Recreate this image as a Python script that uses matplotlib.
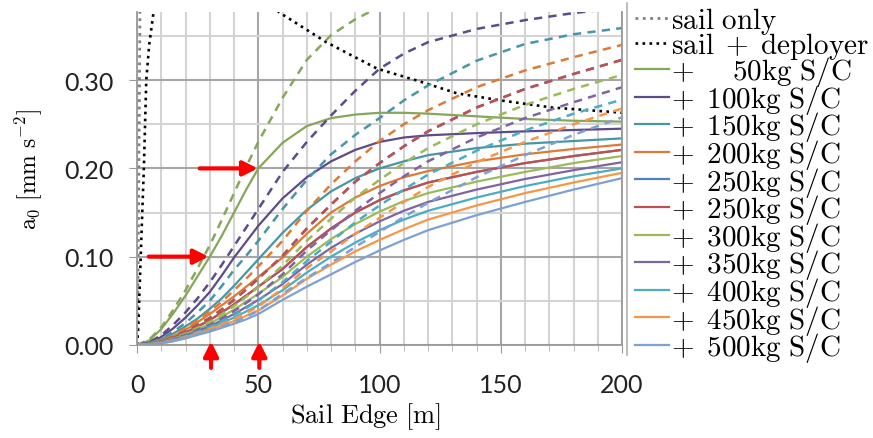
import numpy as np
import matplotlib
matplotlib.use("Agg")
import matplotlib.pyplot as plt
from matplotlib.lines import Line2D

plt.rcParams['mathtext.fontset'] = 'cm'

# Sail edge length [m]
edge = [0, 5, 10, 15, 20, 25, 30, 35, 40, 45, 50, 60, 70, 80, 90, 100, 110, 120, 140, 160, 180, 200]

# characteristic acceleration a0 [mm s^-2], solid curves
sc50 = [0, 0.005, 0.018, 0.036, 0.056, 0.078, 0.100, 0.124, 0.150, 0.176, 0.200, 0.229, 0.248, 0.257, 0.261, 0.263, 0.263, 0.262, 0.259, 0.256, 0.254, 0.253]
sc100 = [0, 0.0025, 0.009, 0.019, 0.031, 0.045, 0.060, 0.079, 0.099, 0.117, 0.135, 0.166, 0.190, 0.208, 0.221, 0.230, 0.235, 0.2375, 0.240, 0.242, 0.2435, 0.245]
sc150 = [0, 0.0017, 0.006, 0.013, 0.021, 0.030, 0.041, 0.053, 0.067, 0.082, 0.097, 0.127, 0.153, 0.174, 0.189, 0.200, 0.208, 0.215, 0.223, 0.228, 0.231, 0.234]
sc200 = [0, 0.0012, 0.0045, 0.010, 0.017, 0.026, 0.035, 0.045, 0.055, 0.066, 0.077, 0.099, 0.126, 0.150, 0.167, 0.180, 0.190, 0.197, 0.208, 0.216, 0.222, 0.227]
sc250 = [0, 0.0009, 0.0037, 0.008, 0.014, 0.021, 0.028, 0.037, 0.046, 0.056, 0.066, 0.086, 0.111, 0.132, 0.150, 0.164, 0.175, 0.184, 0.196, 0.206, 0.214, 0.221]
sc300 = [0, 0.0008, 0.0031, 0.0068, 0.012, 0.018, 0.024, 0.032, 0.040, 0.049, 0.058, 0.077, 0.100, 0.120, 0.137, 0.151, 0.163, 0.172, 0.185, 0.196, 0.206, 0.214]
sc350 = [0, 0.0007, 0.0027, 0.006, 0.0105, 0.016, 0.021, 0.028, 0.035, 0.043, 0.051, 0.069, 0.091, 0.110, 0.126, 0.140, 0.152, 0.162, 0.176, 0.188, 0.198, 0.207]
sc400 = [0, 0.0006, 0.0024, 0.0053, 0.0093, 0.014, 0.019, 0.025, 0.031, 0.038, 0.045, 0.062, 0.082, 0.100, 0.116, 0.130, 0.142, 0.152, 0.167, 0.180, 0.191, 0.200]
sc450 = [0, 0.0005, 0.0021, 0.0047, 0.0083, 0.0126, 0.017, 0.022, 0.027, 0.033, 0.039, 0.056, 0.075, 0.091, 0.106, 0.119, 0.131, 0.142, 0.158, 0.172, 0.184, 0.195]
sc500 = [0, 0.0005, 0.0019, 0.0042, 0.0075, 0.0114, 0.015, 0.0195, 0.024, 0.029, 0.035, 0.051, 0.066, 0.080, 0.094, 0.107, 0.119, 0.130, 0.147, 0.162, 0.176, 0.189]

# dashed curves
d50 = [0, 0.006, 0.020, 0.040, 0.062, 0.087, 0.113, 0.142, 0.172, 0.202, 0.230, 0.280, 0.323, 0.351, 0.369, 0.383, 0.394, 0.400, 0.410, 0.415, 0.418, 0.420]
d100 = [0, 0.003, 0.011, 0.023, 0.037, 0.053, 0.071, 0.091, 0.112, 0.133, 0.154, 0.196, 0.230, 0.260, 0.288, 0.313, 0.330, 0.343, 0.358, 0.368, 0.376, 0.382]
d150 = [0, 0.002, 0.007, 0.015, 0.025, 0.037, 0.050, 0.067, 0.085, 0.101, 0.118, 0.154, 0.187, 0.216, 0.238, 0.257, 0.277, 0.294, 0.322, 0.341, 0.352, 0.359]
d200 = [0, 0.0013, 0.005, 0.011, 0.019, 0.028, 0.038, 0.049, 0.062, 0.075, 0.089, 0.118, 0.152, 0.182, 0.208, 0.231, 0.250, 0.266, 0.292, 0.311, 0.326, 0.340]
d250 = [0, 0.001, 0.004, 0.0087, 0.0153, 0.0229, 0.0306, 0.0404, 0.0511, 0.0627, 0.0751, 0.101, 0.132, 0.159, 0.185, 0.206, 0.225, 0.242, 0.269, 0.290, 0.307, 0.323]
d300 = [0, 0.0009, 0.0034, 0.0074, 0.013, 0.0195, 0.0261, 0.0348, 0.0441, 0.0545, 0.0655, 0.090, 0.118, 0.143, 0.167, 0.187, 0.206, 0.223, 0.250, 0.272, 0.290, 0.306]
d350 = [0, 0.0008, 0.0029, 0.0065, 0.0114, 0.0173, 0.0227, 0.0303, 0.0384, 0.0476, 0.0573, 0.080, 0.107, 0.130, 0.152, 0.172, 0.191, 0.208, 0.235, 0.257, 0.275, 0.292]
d400 = [0, 0.0006, 0.0026, 0.0057, 0.010, 0.0151, 0.0205, 0.027, 0.0339, 0.0418, 0.0503, 0.071, 0.095, 0.117, 0.139, 0.158, 0.176, 0.193, 0.220, 0.243, 0.262, 0.278]
d450 = [0, 0.0005, 0.0023, 0.0051, 0.0089, 0.0135, 0.0183, 0.0237, 0.0294, 0.0362, 0.0434, 0.064, 0.087, 0.106, 0.126, 0.144, 0.162, 0.179, 0.207, 0.230, 0.250, 0.268]
d500 = [0, 0.0005, 0.002, 0.0045, 0.008, 0.0122, 0.0161, 0.0209, 0.0261, 0.0318, 0.0389, 0.058, 0.076, 0.093, 0.111, 0.128, 0.145, 0.161, 0.190, 0.215, 0.238, 0.258]

# sail only / sail + deployer (dotted)
sail_x = [0, 0.3, 0.6, 0.9, 1.2, 1.5]
sail_y = [0, 0.05, 0.14, 0.26, 0.38, 0.50]
depl_x = [0, 0.5, 1.5, 2.8, 3.8, 5, 6.8, 10, 20, 40, 58.5, 78, 99, 116, 132, 150, 171, 198, 200]
depl_y = [0, 0.02, 0.10, 0.20, 0.30, 0.34, 0.377, 0.42, 0.50, 0.45, 0.377, 0.343, 0.313, 0.299, 0.285, 0.277, 0.269, 0.2635, 0.263]

labels = ['50', '100', '150', '200', '250', '250', '300', '350', '400', '450', '500']
solid = [sc50, sc100, sc150, sc200, sc250, sc250, sc300, sc350, sc400, sc450, sc500]
dashed = [d50, d100, d150, d200, d250, d250, d300, d350, d400, d450, d500]
colors = ['#86a65a', '#5e4b89', '#4796a6', '#dd7b35', '#4f81bd', '#c0504d',
          '#9bbb59', '#8064a2', '#4bacc6', '#f79646', '#7ea0d3']

fig = plt.figure(figsize=(8.73, 4.39), dpi=100)
ax = fig.add_axes([0.157, 0.212, 0.5556, 0.758])

ax.plot(sail_x, sail_y, ':', color='#808080', lw=2, label=r'$\mathrm{sail\ only}$')
ax.plot(depl_x, depl_y, ':', color='black', lw=1.9, label=r'$\mathrm{sail}\;+\;\mathrm{deployer}$')

for lab, ys, yd, c in zip(labels, solid, dashed, colors):
    if lab == '50':
        txt = r'$+\ \,\enspace\ \,50\mathrm{kg\ S/C}$'
    else:
        txt = r'$+\ \,' + lab + r'\mathrm{kg\ S/C}$'
    ax.plot(edge, ys, '-', color=c, lw=1.6, label=txt)
    ax.plot(edge, yd, '--', color=c, lw=1.8, dashes=(3.3, 2.5))

ax.set_xlim(0, 200)
ax.set_ylim(0, 0.377)

# grid: minor every 10 m / 0.05, major every 50 m / 0.10
ax.set_xticks([0, 50, 100, 150, 200])
ax.set_xticks(np.arange(0, 201, 10), minor=True)
ax.set_yticks([0, 0.1, 0.2, 0.3])
ax.set_yticks(np.arange(0, 0.36, 0.05), minor=True)
ax.set_yticklabels(['0.00', '0.10', '0.20', '0.30'])
ax.grid(True, which='minor', color='#d4d4d4', lw=1.5)
ax.grid(True, which='major', color='#a6a6a6', lw=1.5)
ax.set_axisbelow(True)

ax.spines['top'].set_visible(False)
for s in ['left', 'bottom', 'right']:
    ax.spines[s].set_color('#9a9a9a')
    ax.spines[s].set_linewidth(1.3)

ax.tick_params(axis='both', which='major', direction='out', length=6, color='#9a9a9a',
               labelsize=18)
ax.tick_params(axis='x', which='major', pad=14)
ax.tick_params(axis='y', which='major', pad=11)
ax.tick_params(axis='x', which='minor', direction='out', length=4, color='#b0b0b0')
ax.tick_params(axis='y', which='minor', length=0)
for t in ax.get_xticklabels() + ax.get_yticklabels():
    t.set_fontfamily('Lato')
    t.set_color('#222222')

ax.set_xlabel(r'$\mathrm{Sail\ Edge\ [m]}$', fontsize=19)
ax.set_ylabel(r'$\mathrm{a_0\ [mm\ s^{-2}]}$', fontsize=17)
ax.xaxis.set_label_coords(0.47, -0.165)
ax.yaxis.set_label_coords(-0.19, 0.53)

# red arrows marking the 0.1 and 0.2 crossings of the 50kg curve
arrow = dict(arrowstyle='-|>', color='red', lw=3, mutation_scale=22, shrinkA=0, shrinkB=0)
ax.annotate('', xy=(29.5, 0.10), xytext=(4.8, 0.10), arrowprops=arrow, annotation_clip=False)
ax.annotate('', xy=(49.8, 0.20), xytext=(25.8, 0.20), arrowprops=arrow, annotation_clip=False)
ax.annotate('', xy=(30.5, 0.004), xytext=(30.5, -0.026), arrowprops=arrow, annotation_clip=False)
ax.annotate('', xy=(50.4, 0.004), xytext=(50.4, -0.026), arrowprops=arrow, annotation_clip=False)

leg = ax.legend(loc='upper left', bbox_to_anchor=(0.727, 0.986), bbox_transform=fig.transFigure,
                frameon=False, fontsize=21, handlelength=1.18, handletextpad=0.08,
                labelspacing=-0.22, borderaxespad=0, borderpad=0.0)

fig.add_artist(Line2D([0.718, 0.718], [0.19, 0.99], color='#b0b0b0', lw=1.2))

fig.savefig('out.png', dpi=100)
